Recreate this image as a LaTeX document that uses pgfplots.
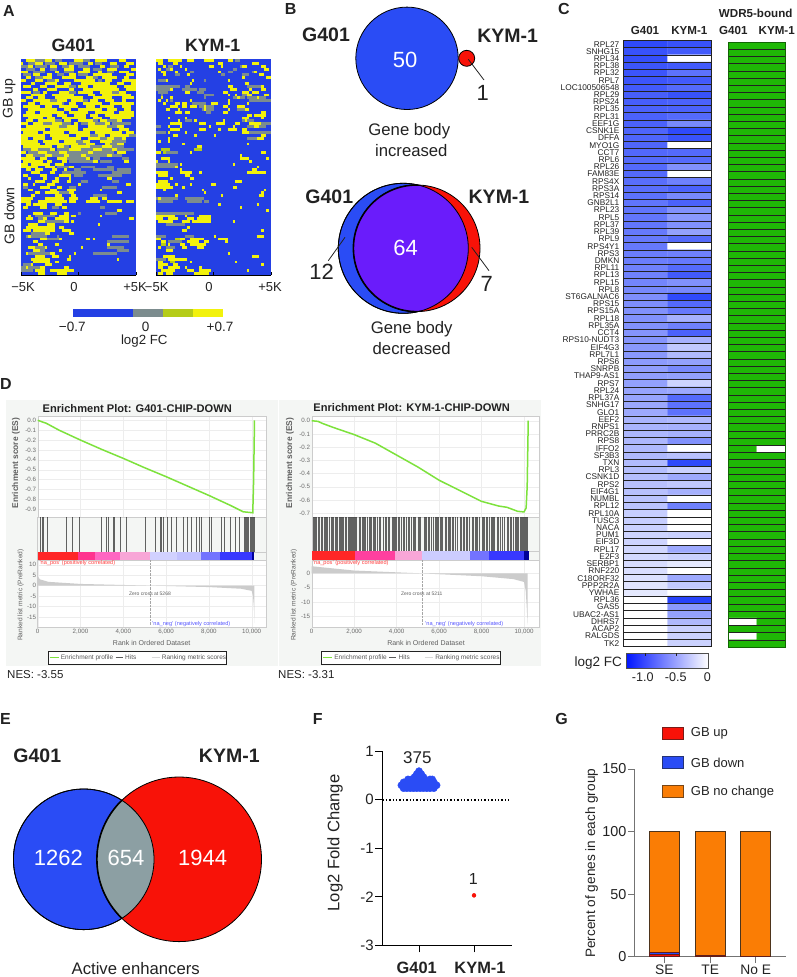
\documentclass[border=0pt]{standalone}
\usepackage{fontspec}
\setmainfont{Liberation Sans}
\usepackage{pgfplots}
\usepackage{pgfplotstable}
\pgfplotsset{compat=1.18}
\newcommand\fs[1]{\fontsize{#1}{#1}\selectfont}
\definecolor{vblue}{HTML}{2A4CF5}
\definecolor{vred}{HTML}{F81208}
\definecolor{vpurple}{HTML}{6A1CFB}
\definecolor{vgrey}{HTML}{8C9FA3}
\definecolor{hblue}{HTML}{2440E4}
\definecolor{hgrey}{HTML}{7C8C8E}
\definecolor{hyel}{HTML}{F2F20C}
\definecolor{holive}{HTML}{B5CC18}
\definecolor{green1}{HTML}{1FB806}
\definecolor{esgreen}{HTML}{7DE23C}
\definecolor{ink}{HTML}{222222}
\definecolor{gseabg}{HTML}{F4F6F4}
\definecolor{orng}{HTML}{FA7D05}
\pgfplotsset{
  panel/.style={scale only axis, anchor=north west, clip mode=individual},
  heat/.style={panel, width=115pt, height=216pt, xmin=0, xmax=48, ymin=0.5, ymax=75.5, y dir=reverse,
    axis line style={draw=none}, axis background/.style={fill=hblue}, ytick=\empty,
    xtick={0,24,48}, xticklabels={}, tick style={black, thick}, major tick length=3pt, tick pos=bottom},
  runs/.style={draw=none, mark=none, forget plot, error bars/.cd, x dir=plus, x explicit, error mark=none,
    error bar style={color=#1, line width=2.9pt}},
  fcmap/.style={panel, xmin=-0.5, xmax=1.5, ymin=-0.5, ymax=83.5, y dir=reverse, xtick=\empty,
    ytick={0,...,83}, major tick length=0pt,
    enlargelimits=false, axis line style={draw=ink, line width=1pt}, axis on top,
    minor ytick={-0.5,0.5,...,83.5}, minor xtick={0.5}, grid=minor,
    minor grid style={draw=ink, line width=.55pt}, minor tick length=0pt},
  gsea/.style={panel, axis line style={draw=gray!40, line width=.4pt}, major tick length=0pt, scaled ticks=false,
    xmin=0, xtick={0,2000,4000,6000,8000,10000}, xticklabels={}, grid=major,
    grid style={gray!14, line width=.3pt}, axis background/.style={fill=white},
    tick label style={font=\fs{6.2}, text=gray!85!black, inner sep=1.5pt}},
  bare/.style={panel, axis line style={draw=gray!40, line width=.4pt}, xmin=0, ytick=\empty, xtick=\empty,
    ymin=0, ymax=1},
  area/.style={fill=#1, draw=none, forget plot},
}
\newcommand\seg[3]{\addplot[area=#1] coordinates {(#2,0)(#2,1)(#3,1)(#3,0)} -- cycle;}
% panel A, runs of cells: row, first column, number of columns
\pgfplotstableread[row sep=\\]{r a n\\
1 2 4\\1 10 3\\1 22 4\\1 31 5\\1 41 3\\2 0 1\\2 6 3\\2 16 3\\2 28 2\\2 37 3\\2 44 3\\3 3 2\\3 12 3\\3 20 2\\3 33 2\\3 43 2\\
4 8 2\\4 18 4\\4 26 3\\4 36 4\\4 46 2\\5 0 3\\5 14 2\\5 24 5\\5 32 2\\5 41 4\\6 5 3\\6 11 2\\6 20 3\\6 30 8\\6 44 3\\
7 2 2\\7 9 4\\7 17 6\\7 27 3\\7 34 6\\7 43 2\\8 0 2\\8 6 3\\8 14 2\\8 22 9\\8 35 3\\8 42 6\\9 4 2\\9 10 5\\9 18 3\\9 25 12\\9 40 3\\9 46 2\\
10 1 3\\10 8 3\\10 14 6\\10 24 4\\10 30 10\\10 43 5\\11 5 2\\11 11 4\\11 20 2\\11 26 15\\11 44 4\\12 0 4\\12 9 2\\12 16 4\\12 24 6\\12 33 5\\12 41 3\\
13 4 6\\13 13 9\\13 28 3\\13 34 12\\14 2 3\\14 7 3\\14 14 12\\14 30 8\\14 42 5\\15 0 2\\15 5 7\\15 15 4\\15 21 5\\15 29 3\\15 35 4\\15 42 2\\
16 3 3\\16 8 9\\16 20 3\\16 26 8\\16 37 10\\17 1 7\\17 10 3\\17 16 8\\17 27 4\\17 33 6\\17 42 4\\18 3 12\\18 18 3\\18 24 10\\18 36 4\\18 43 3\\
19 2 4\\19 8 10\\19 20 8\\19 31 8\\19 41 6\\20 1 12\\20 15 4\\20 22 5\\20 29 3\\20 35 12\\21 3 6\\21 11 3\\21 17 10\\21 30 4\\21 37 9\\
22 2 3\\22 7 7\\22 18 3\\22 24 6\\22 33 3\\22 40 2\\23 0 3\\23 5 4\\23 13 4\\23 22 2\\23 28 3\\23 35 2\\24 2 14\\24 19 5\\24 28 8\\24 40 3\\
25 0 10\\25 12 12\\25 26 12\\25 41 4\\26 1 6\\26 9 9\\26 20 9\\26 31 11\\26 44 3\\27 0 10\\27 12 8\\27 23 6\\27 32 3\\27 37 8\\28 0 3\\28 5 5\\28 13 12\\28 28 5\\28 36 3\\28 42 2\\
29 0 7\\29 9 7\\29 18 5\\29 26 3\\29 33 5\\30 0 8\\30 10 14\\30 27 4\\30 35 2\\30 40 3\\31 1 12\\31 15 3\\31 21 8\\31 34 4\\32 4 3\\32 12 2\\32 20 5\\32 30 4\\32 38 2\\
33 0 2\\33 7 4\\33 16 3\\33 28 2\\33 40 4\\34 2 3\\34 10 3\\34 18 2\\34 25 2\\34 36 2\\35 0 6\\35 8 3\\35 15 4\\35 27 2\\36 1 8\\36 11 2\\36 17 2\\36 30 2\\36 43 2\\
37 0 3\\37 4 8\\37 14 4\\38 0 7\\38 10 4\\38 20 2\\39 2 2\\39 6 3\\39 13 2\\39 18 1\\40 4 4\\40 12 2\\41 1 2\\41 8 3\\41 16 5\\42 3 1\\42 9 2\\42 14 2\\42 20 1\\42 36 2\\
43 6 4\\43 13 3\\43 19 2\\44 1 2\\44 5 1\\44 11 3\\44 24 1\\44 44 2\\45 8 4\\45 15 2\\46 3 2\\46 12 3\\46 19 4\\46 33 1\\47 6 2\\47 10 6\\47 20 2\\47 40 2\\48 4 2\\48 14 3\\48 21 2\\
49 0 5\\49 10 8\\49 20 4\\49 29 3\\49 34 2\\50 0 4\\50 7 12\\50 20 3\\50 27 6\\50 36 6\\50 44 3\\51 2 2\\51 5 6\\51 14 3\\52 1 2\\52 8 3\\52 17 2\\53 40 2\\54 5 4\\54 12 3\\54 18 2\\
55 3 1\\55 16 4\\55 21 2\\55 33 1\\56 2 3\\56 9 2\\56 14 6\\56 45 2\\57 7 3\\57 18 2\\57 21 1\\58 3 4\\58 11 3\\58 32 1\\59 2 12\\59 16 2\\60 1 3\\60 5 9\\60 17 4\\61 10 2\\61 20 2\\62 3 1\\
63 8 3\\63 16 1\\63 27 2\\63 30 1\\64 5 2\\65 7 2\\65 14 2\\65 36 1\\66 3 3\\66 10 1\\66 25 1\\67 5 3\\67 16 1\\68 2 1\\68 12 2\\68 22 1\\69 6 4\\69 13 3\\69 20 1\\70 4 8\\70 19 2\\70 40 1\\
71 5 7\\71 14 2\\72 4 1\\72 10 3\\73 2 1\\73 8 2\\73 18 2\\74 6 4\\74 12 10\\75 7 3\\75 15 4\\
}\gYel
\pgfplotstableread[row sep=\\]{r a n\\
1 6 4\\1 14 3\\1 26 3\\2 3 3\\2 10 4\\2 20 6\\2 31 3\\3 0 3\\3 6 5\\3 17 3\\3 24 5\\3 37 4\\4 2 4\\4 12 3\\4 30 4\\5 5 5\\5 18 4\\5 36 3\\6 1 3\\6 15 3\\6 24 4\\7 6 3\\7 29 3\\8 11 3\\8 32 2\\
10 20 3\\12 5 3\\12 20 3\\12 38 3\\15 12 3\\15 25 3\\16 14 4\\22 12 5\\22 28 4\\22 36 4\\23 9 4\\23 17 4\\23 25 3\\23 30 5\\23 38 8\\24 16 3\\24 36 4\\27 29 3\\27 45 3\\
28 18 1\\28 33 3\\28 38 4\\29 21 5\\29 38 6\\30 24 3\\30 37 3\\31 16 4\\31 29 5\\31 38 5\\32 1 3\\32 7 5\\32 15 5\\32 25 5\\32 34 4\\32 40 7\\33 3 4\\33 11 5\\33 19 9\\33 30 9\\
34 5 5\\34 13 5\\34 20 5\\34 27 9\\34 38 4\\35 19 8\\35 30 3\\35 42 3\\36 20 10\\36 33 5\\38 15 5\\38 25 6\\38 36 3\\39 22 3\\39 30 9\\39 40 6\\40 17 10\\40 38 8\\41 22 4\\41 32 10\\
43 25 3\\43 38 3\\45 1 2\\45 20 3\\45 34 6\\47 14 6\\48 30 6\\52 13 3\\52 33 2\\54 24 1\\54 35 5\\55 6 8\\56 7 2\\57 10 8\\61 4 6\\62 2 9\\62 15 1\\62 38 7\\63 11 5\\64 36 9\\66 5 5\\66 36 7\\
67 8 2\\67 40 5\\68 3 9\\68 30 10\\72 1 3\\73 0 8\\74 0 5\\
}\gGry
\pgfplotstableread[row sep=\\]{r a n\\
1 0 3\\1 5 6\\1 13 3\\1 20 4\\1 30 2\\2 1 2\\2 7 2\\2 26 2\\2 40 3\\3 3 1\\3 10 1\\3 22 2\\3 27 1\\3 36 2\\3 44 2\\4 1 1\\4 6 1\\4 12 1\\4 45 2\\5 2 2\\5 8 1\\5 26 1\\5 41 1\\6 3 1\\6 13 1\\6 43 2\\
7 36 1\\7 46 2\\8 4 1\\8 15 1\\8 30 1\\9 14 1\\9 37 2\\10 30 2\\10 44 1\\11 6 1\\11 31 2\\11 33 1\\11 39 1\\11 44 2\\12 12 2\\12 28 2\\12 36 3\\12 40 3\\13 30 1\\13 33 1\\13 38 2\\13 45 2\\
14 2 1\\14 6 1\\14 34 1\\14 42 1\\15 1 1\\15 4 1\\15 14 1\\15 30 1\\16 3 1\\16 8 2\\16 11 2\\16 23 3\\16 30 1\\16 38 1\\17 6 3\\17 11 2\\17 14 3\\17 20 1\\17 28 2\\17 34 3\\18 4 2\\18 9 1\\18 20 1\\18 30 1\\18 37 2\\
19 8 3\\19 12 2\\19 28 2\\19 44 2\\20 38 2\\20 41 5\\21 5 1\\21 12 1\\21 36 3\\21 44 1\\22 9 1\\22 16 1\\22 28 1\\22 37 1\\23 6 5\\23 18 3\\23 25 4\\23 33 2\\23 39 5\\24 5 1\\24 10 1\\24 22 1\\24 32 1\\24 41 2\\
25 6 4\\25 18 3\\25 26 1\\25 30 4\\25 36 2\\26 5 1\\26 12 1\\26 36 3\\27 7 2\\27 16 1\\27 24 1\\27 44 2\\28 5 1\\28 42 3\\29 1 1\\29 5 1\\30 11 1\\30 38 1\\31 17 2\\33 0 2\\33 14 1\\33 44 2\\34 35 1\\35 2 4\\35 35 4\\35 46 1\\
36 0 1\\36 5 1\\36 39 1\\37 10 1\\37 32 1\\38 8 1\\38 42 1\\39 10 1\\39 40 2\\40 0 5\\40 10 5\\40 18 1\\40 38 8\\41 1 4\\41 12 2\\42 6 1\\42 14 2\\43 1 4\\43 33 3\\44 0 6\\44 8 1\\44 14 1\\44 23 2\\45 0 7\\45 11 1\\45 32 2\\
46 3 1\\46 19 1\\46 45 1\\47 20 1\\47 44 1\\48 8 1\\48 27 1\\48 43 2\\49 1 1\\51 26 1\\51 42 1\\52 35 1\\53 46 1\\55 0 8\\55 12 1\\55 18 5\\56 0 3\\56 5 4\\56 13 3\\56 17 6\\57 1 6\\57 11 3\\57 15 8\\57 32 1\\
59 13 1\\60 11 2\\60 44 1\\62 24 1\\62 42 3\\63 0 2\\63 10 2\\63 14 6\\63 26 4\\64 2 2\\64 13 5\\64 20 2\\64 29 1\\65 5 1\\65 10 2\\65 14 7\\66 1 1\\66 11 2\\66 17 3\\67 4 3\\68 30 1\\69 3 5\\69 40 3\\70 5 8\\
71 1 2\\71 14 1\\71 33 1\\72 1 4\\72 7 2\\72 44 1\\73 1 2\\73 5 5\\73 12 1\\73 18 1\\74 2 6\\74 13 3\\74 18 5\\74 38 1\\75 1 2\\75 4 3\\75 16 6\\
}\kYel
\pgfplotstableread[row sep=\\]{r a n\\
1 8 2\\1 33 2\\3 5 2\\3 35 1\\4 4 2\\4 32 2\\5 14 2\\5 30 2\\5 40 2\\6 8 2\\6 27 2\\6 36 3\\8 1 3\\8 20 1\\10 0 10\\10 12 2\\10 38 6\\11 0 6\\11 11 6\\11 18 3\\12 1 4\\12 17 3\\13 2 1\\13 20 4\\13 36 2\\
14 20 1\\14 32 5\\14 38 8\\15 6 1\\15 39 9\\16 15 6\\17 18 2\\17 20 4\\18 19 5\\18 34 3\\19 21 2\\22 12 3\\22 36 5\\23 44 4\\24 0 2\\24 38 8\\26 0 4\\26 38 10\\28 38 6\\33 3 6\\37 0 9\\38 0 8\\
49 0 9\\49 12 8\\50 1 6\\50 13 6\\50 20 2\\54 0 16\\58 4 8\\62 0 4\\62 12 4\\64 5 6\\66 4 4\\70 0 4\\
}\kGry
\pgfplotstableread[row sep=\\]{r a n\\
32 2 4\\32 16 3\\33 3 1\\63 8 2\\65 2 2\\71 6 2\\
}\kOli
% panel C: column, row, log2 FC, WDR5-bound
\pgfplotstableread[row sep=\\]{x y fc wd\\
0 0 -1.15 1\\1 0 -1.10 1\\0 1 -1.10 1\\1 1 -1.05 1\\0 2 -1.12 1\\1 2 0 1\\0 3 -1.08 1\\1 3 -1.05 1\\0 4 -1.08 1\\1 4 -0.90 1\\0 5 -1.08 1\\1 5 -1.05 1\\
0 6 -1.05 1\\1 6 -0.95 1\\0 7 -1.02 1\\1 7 -1.10 1\\0 8 -1.02 1\\1 8 -1.00 1\\0 9 -1.00 1\\1 9 -1.00 1\\0 10 -1.00 1\\1 10 -0.95 1\\0 11 -1.00 1\\1 11 -0.75 1\\
0 12 -0.98 1\\1 12 -1.15 1\\0 13 -0.98 1\\1 13 -1.10 1\\0 14 -0.97 1\\1 14 0 1\\0 15 -0.96 1\\1 15 -0.95 1\\0 16 -0.95 1\\1 16 -0.95 1\\0 17 -0.95 1\\1 17 -0.70 1\\
0 18 -0.95 1\\1 18 0 1\\0 19 -0.92 1\\1 19 -0.80 1\\0 20 -0.92 1\\1 20 -1.00 1\\0 21 -0.90 1\\1 21 -0.75 1\\0 22 -0.88 1\\1 22 -1.00 1\\0 23 -0.88 1\\1 23 -0.70 1\\
0 24 -0.87 1\\1 24 -0.65 1\\0 25 -0.87 1\\1 25 -0.70 1\\0 26 -0.85 1\\1 26 -0.60 1\\0 27 -0.85 1\\1 27 -0.95 1\\0 28 -0.85 1\\1 28 0 1\\0 29 -0.82 1\\1 29 -0.80 1\\
0 30 -0.82 1\\1 30 -0.85 1\\0 31 -0.80 1\\1 31 -0.95 1\\0 32 -0.80 1\\1 32 -1.05 1\\0 33 -0.78 1\\1 33 -0.70 1\\0 34 -0.76 1\\1 34 -0.75 1\\0 35 -0.72 1\\1 35 -1.15 1\\
0 36 -0.72 1\\1 36 -0.95 1\\0 37 -0.70 1\\1 37 -0.85 1\\0 38 -0.70 1\\1 38 -0.50 1\\0 39 -0.70 1\\1 39 -0.80 1\\0 40 -0.68 1\\1 40 -1.00 1\\0 41 -0.68 1\\1 41 -0.50 1\\
0 42 -0.66 1\\1 42 -0.35 1\\0 43 -0.66 1\\1 43 -0.45 1\\0 44 -0.64 1\\1 44 -0.60 1\\0 45 -0.62 1\\1 45 -0.75 1\\0 46 -0.62 1\\1 46 -0.60 1\\0 47 -0.60 1\\1 47 -0.28 1\\
0 48 -0.58 1\\1 48 -0.55 1\\0 49 -0.58 1\\1 49 -0.95 1\\0 50 -0.56 1\\1 50 -0.90 1\\0 51 -0.55 1\\1 51 -0.90 1\\0 52 -0.48 1\\1 52 -0.45 1\\0 53 -0.48 1\\1 53 -0.50 1\\
0 54 -0.46 1\\1 54 -0.50 1\\0 55 -0.46 1\\1 55 -0.70 1\\0 56 -0.45 1\\1 56 0 0\\0 57 -0.45 1\\1 57 -0.40 1\\0 58 -0.44 1\\1 58 -1.15 1\\0 59 -0.42 1\\1 59 -0.30 1\\
0 60 -0.42 1\\1 60 -0.55 1\\0 61 -0.40 1\\1 61 -0.35 1\\0 62 -0.40 1\\1 62 -0.50 1\\0 63 -0.38 1\\1 63 0 1\\0 64 -0.38 1\\1 64 -0.80 1\\0 65 -0.32 1\\1 65 0 1\\
0 66 -0.32 1\\1 66 0 1\\0 67 -0.30 1\\1 67 0 1\\0 68 -0.28 1\\1 68 -0.30 1\\0 69 -0.28 1\\1 69 0 1\\0 70 -0.26 1\\1 70 -0.55 1\\0 71 -0.25 1\\1 71 -0.30 1\\
0 72 -0.23 1\\1 72 -0.15 1\\0 73 -0.22 1\\1 73 0 1\\0 74 -0.20 1\\1 74 -0.55 1\\0 75 -0.18 1\\1 75 -0.35 1\\0 76 -0.15 1\\1 76 0 1\\0 77 0 1\\1 77 -1.20 1\\
0 78 0 1\\1 78 -0.65 1\\0 79 0 1\\1 79 -0.60 1\\0 80 0 0\\1 80 -0.45 1\\0 81 0 1\\1 81 -0.30 1\\0 82 0 0\\1 82 -0.30 1\\0 83 0 1\\1 83 -0.30 1\\
}\fcTable
\begin{document}
\begin{tikzpicture}
\path[use as bounding box] (0,0) rectangle (796pt,-977pt);
% ---- A
\begin{axis}[heat, at={(21pt,-59pt)}]
\addplot[runs=hgrey] table[x=a,y=r,x error=n] {\gGry};
\addplot[runs=hyel] table[x=a,y=r,x error=n] {\gYel};
\addplot[black, line width=1pt, forget plot] coordinates {(0,75.5)(48,75.5)};
\end{axis}
\begin{axis}[heat, at={(156pt,-59pt)}]
\addplot[runs=hgrey] table[x=a,y=r,x error=n] {\kGry};
\addplot[runs=holive] table[x=a,y=r,x error=n] {\kOli};
\addplot[runs=hyel] table[x=a,y=r,x error=n] {\kYel};
\addplot[black, line width=1pt, forget plot] coordinates {(0,75.5)(48,75.5)};
\end{axis}
% ---- C
\begin{axis}[fcmap, at={(623.5pt,-40.5pt)}, width=88pt, height=606.2pt,
  colormap={hm}{rgb255=(20,50,250) rgb255=(255,255,255)}, point meta min=-1.3, point meta max=0,
  yticklabels={RPL27,SNHG15,RPL34,RPL38,RPL32,RPL7,LOC100506548,RPL29,RPS24,RPL35,RPL31,EEF1G,CSNK1E,DFFA,MYO1G,CCT7,RPL6,RPL26,FAM83E,RPS4X,RPS3A,RPS14,GNB2L1,RPL23,RPL5,RPL37,RPL39,RPL9,RPS4Y1,RPS3,DMKN,RPL11,RPL13,RPL15,RPL8,ST6GALNAC6,RPS15,RPS15A,RPL18,RPL35A,CCT4,RPS10-NUDT3,EIF4G3,RPL7L1,RPS6,SNRPB,THAP9-AS1,RPS7,RPL24,RPL37A,SNHG17,GLO1,EEF2,RNPS1,PRRC2B,RPS8,IFFO2,SF3B3,TXN,RPL3,CSNK1D,RPS2,EIF4G1,NUMBL,RPL12,RPL10A,TUSC3,NACA,PUM1,EIF3D,RPL17,E2F3,SERBP1,RNF220,C18ORF32,PPP2R2A,YWHAE,RPL36,GAS5,UBAC2-AS1,DHRS7,ACAP2,RALGDS,TK2},
  yticklabel style={font=\fs{8.3}, text=ink, inner sep=0pt, xshift=-4pt}]
\addplot[matrix plot*, mesh/cols=2, point meta=explicit]
  table[x=x,y=y,meta=fc] {\fcTable};
\end{axis}
\begin{axis}[fcmap, at={(728pt,-42pt)}, width=57.7pt, height=605pt, yticklabels={},
  axis line style={draw=green1!55!black, line width=.5pt},
  colormap={gw}{rgb255=(255,255,255) rgb255=(31,184,6)}, point meta min=0, point meta max=1]
\addplot[matrix plot*, mesh/cols=2, point meta=explicit]
  table[x=x,y=y,meta=wd] {\fcTable};
\end{axis}
% ---- D, backgrounds first
\fill[gseabg] (6pt,-400pt) rectangle (278pt,-666pt);
\fill[gseabg] (279pt,-400pt) rectangle (541pt,-666pt);
% left plot
\begin{axis}[gsea, at={(37.7pt,-416pt)}, width=228pt, height=101.3pt, xmax=10654, ymin=-0.981, ymax=0.0435,
  ytick={0,-0.1,-0.2,-0.3,-0.4,-0.5,-0.6,-0.7,-0.8,-0.9},
  yticklabels={0.0,-0.1,-0.2,-0.3,-0.4,-0.5,-0.6,-0.7,-0.8,-0.9}]
\addplot[esgreen, line width=1.5pt] coordinates {(0,0)(400,-0.03)(1000,-0.10)(2000,-0.20)(3000,-0.295)(4000,-0.385)(5000,-0.48)(6000,-0.57)(7000,-0.665)(8000,-0.76)(9000,-0.86)(9600,-0.925)(10050,-0.935)(10090,-0.6)(10130,0)};
\end{axis}
\begin{axis}[bare, at={(37.7pt,-517.3pt)}, width=228pt, height=34.4pt, xmax=10654]
\addplot[ycomb, black, opacity=.6, line width=.8pt, mark=none] coordinates {
(140,1)(218,1)(265,1)(436,1)(467,1)(1340,1)(1636,1)(1947,1)(2991,1)(3225,1)(3303,1)(3537,1)(3599,1)(3879,1)(4160,1)(5048,1)(5484,1)(5718,1)(5765,1)(5874,1)(6061,1)(6263,1)(6497,1)(6808,1)(7000,1)(7198,1)(7432,1)(7541,1)(7665,1)(8024,1)(8102,1)(8569,1)(8709,1)(8990,1)(9223,1)(9426,1)(9644,1)(9691,1)(9738,1)(9800,1)(9847,1)(9925,1)(10002,1)(10049,1)(10080,1)(10111,1)};
\end{axis}
\begin{axis}[bare, at={(37.7pt,-551.7pt)}, width=228pt, height=8.3pt, xmax=10654]
\seg{red!85!white}{0}{1900}\seg{red!55!magenta!80!white}{1900}{2700}\seg{red!40!magenta!60!white}{2700}{3850}\seg{magenta!35!white}{3850}{5250}\seg{blue!18!white}{5250}{6500}\seg{blue!24!white}{6500}{7650}\seg{blue!55!white}{7650}{8500}\seg{blue!78!white}{8500}{10000}\seg{blue!60!black}{10000}{10130}
\end{axis}
\begin{axis}[gsea, at={(37.7pt,-560pt)}, width=228pt, height=67.3pt, xmax=10654, ymin=-19.95, ymax=12.25,
  ytick={-15,-10,-5,0,5,10}, yticklabels={-15,-10,-5,0,5,10},
  xticklabels={0,{2,000},{4,000},{6,000},{8,000},{10,000}}]
\addplot[area=gray!40] coordinates {(0,0)(0,4.5)(100,3)(500,1.8)(2000,0.8)(5268,0)(8000,-0.7)(9500,-1.5)(10000,-2.5)(10060,-5)(10100,-10)(10130,-18)(10130,0)} -- cycle;
\addplot[gray!70, densely dotted, line width=.4pt, forget plot] coordinates {(5268,12.25)(5268,-19)};
\end{axis}
% right plot
\begin{axis}[gsea, at={(311.7pt,-415.7pt)}, width=227.3pt, height=101.6pt, xmax=10707, ymin=-0.7305, ymax=0.0379,
  ytick={0,-0.1,-0.2,-0.3,-0.4,-0.5,-0.6,-0.7},
  yticklabels={0.0,-0.1,-0.2,-0.3,-0.4,-0.5,-0.6,-0.7}]
\addplot[esgreen, line width=1.5pt] coordinates {(0,0)(300,-0.005)(500,-0.02)(1000,-0.05)(2000,-0.105)(3000,-0.17)(4000,-0.26)(5000,-0.35)(6000,-0.45)(7000,-0.53)(8000,-0.61)(8800,-0.645)(9200,-0.655)(9700,-0.685)(10000,-0.69)(10100,-0.66)(10150,-0.5)(10200,0)};
\end{axis}
\begin{axis}[bare, at={(311.7pt,-517.3pt)}, width=227.3pt, height=33.7pt, xmax=10707]
\addplot[ycomb, black, opacity=.6, line width=.9pt, mark=none] coordinates {
(60,1)(130,1)(190,1)(240,1)(310,1)(360,1)(450,1)(510,1)(580,1)(640,1)(700,1)(760,1)(850,1)(920,1)(1000,1)(1040,1)(1110,1)(1180,1)(1230,1)(1290,1)(1350,1)(1400,1)(1450,1)(1500,1)(1600,1)(1650,1)(1710,1)(1780,1)(1830,1)(1870,1)(1930,1)(1980,1)(2020,1)(2060,1)(2120,1)(2240,1)(2300,1)(2380,1)(2430,1)(2480,1)(2540,1)(2610,1)(2700,1)(2760,1)(2820,1)(2890,1)(2950,1)(3010,1)(3120,1)(3180,1)(3250,1)(3400,1)(3460,1)(3520,1)(3600,1)(3660,1)(3780,1)(3830,1)(3900,1)(3960,1)(4010,1)(4080,1)(4150,1)(4250,1)(4300,1)(4370,1)(4450,1)(4560,1)(4620,1)(4700,1)(4780,1)(4830,1)(4900,1)(5010,1)(5060,1)(5120,1)(5300,1)(5350,1)(5420,1)(5500,1)(5560,1)(5620,1)(5720,1)(5820,1)(5880,1)(5930,1)(5990,1)(6060,1)(6110,1)(6180,1)(6300,1)(6360,1)(6420,1)(6490,1)(6550,1)(6610,1)(6700,1)(6760,1)(6880,1)(7000,1)(7060,1)(7130,1)(7190,1)(7290,1)(7350,1)(7420,1)(7560,1)(7620,1)(7690,1)(7760,1)(7830,1)(7880,1)(8020,1)(8080,1)(8140,1)(8210,1)(8300,1)(8370,1)(8450,1)(8510,1)(8560,1)(8620,1)(8760,1)(8820,1)(8890,1)(9000,1)(9060,1)(9200,1)(9270,1)(9350,1)(9410,1)(9520,1)(9580,1)(9640,1)(9700,1)(9760,1)(9820,1)(9880,1)(9930,1)(9980,1)(10020,1)(10060,1)(10100,1)(10140,1)(10180,1)};
\end{axis}
\begin{axis}[bare, at={(311.7pt,-551pt)}, width=227.3pt, height=8.7pt, xmax=10707]
\seg{red!85!white}{0}{2044}\seg{red!50!magenta!75!white}{2044}{3930}\seg{magenta!35!white}{3930}{5188}\seg{blue!20!white}{5188}{7467}\seg{blue!55!white}{7467}{8332}\seg{blue!78!white}{8332}{9982}\seg{blue!60!black}{9982}{10218}
\end{axis}
\begin{axis}[gsea, at={(311.7pt,-559.7pt)}, width=227.3pt, height=67.3pt, xmax=10707, ymin=-18.8, ymax=4.8,
  ytick={-15,-10,-5,0}, yticklabels={-15,-10,-5,0},
  xticklabels={0,{2,000},{4,000},{6,000},{8,000},{10,000}}]
\addplot[area=gray!40] coordinates {(0,0)(0,2.5)(2000,1.0)(5211,0)(8000,-1)(9500,-2)(10000,-3)(10080,-6)(10130,-12)(10170,-18)(10170,0)} -- cycle;
\addplot[gray!70, densely dotted, line width=.4pt, forget plot] coordinates {(5211,4.8)(5211,-18)};
\end{axis}
% ---- F
\begin{axis}[panel, at={(382.3pt,-751.3pt)}, width=129.4pt, height=194pt, xmin=0.333, xmax=2.685, ymin=-3, ymax=1,
  axis lines=left, axis line style={-, black, line width=1pt}, tick style={black, line width=1pt},
  tick align=outside, major tick length=7pt, clip=false,
  ytick={-3,-2,-1,0,1}, yticklabels={-3,-2,-1,0,1}, xtick={1,2}, xticklabels={},
  yticklabel style={font=\fs{15}, text=ink, inner sep=1.5pt}]
\addplot[black, line width=1.4pt, dotted, forget plot] coordinates {(0.333,0)(2.64,0)};
\addplot[only marks, mark=*, mark size=3.6pt, color=vblue, mark options={fill=vblue, draw=vblue}] coordinates {
(.72,.24)(.78,.24)(.84,.24)(.90,.24)(.96,.24)(1.02,.24)(1.08,.24)(1.14,.24)(1.20,.24)(1.27,.24)
(.68,.30)(.74,.30)(.80,.30)(.86,.30)(.92,.30)(.98,.30)(1.04,.30)(1.10,.30)(1.16,.30)(1.22,.30)(1.29,.30)(1.32,.30)
(.72,.36)(.78,.36)(.84,.36)(.90,.36)(.96,.36)(1.02,.36)(1.08,.36)(1.14,.36)(1.22,.36)(1.27,.36)
(.80,.42)(.86,.42)(.92,.42)(.98,.42)(1.04,.42)(1.10,.42)(1.20,.42)(1.24,.42)
(.92,.47)(.96,.47)(1.0,.47)(1.04,.47)(1.08,.47)(.96,.53)(1.0,.53)(1.04,.53)(1.0,.59)};
\addplot[only marks, mark=*, mark size=2pt, color=vred, mark options={fill=vred, draw=vred}] coordinates {(2,-1.97)};
\end{axis}
% ---- G
\begin{axis}[panel, at={(634pt,-769pt)}, width=152pt, height=187.7pt, xmin=-0.663, xmax=2.663, ymin=0, ymax=150,
  ybar stacked, bar width=30pt,
  axis lines=left, axis line style={-, gray!90!black, line width=1pt}, tick style={gray!90!black, line width=1pt},
  tick align=outside, major tick length=6pt, clip=false,
  ytick={0,50,100,150}, yticklabels={0,50,100,150}, xtick={0,1,2}, xticklabels={},
  yticklabel style={font=\fs{14.4}, text=ink, inner sep=1.5pt}]
\addplot[fill=vred, draw=ink!70!vred, line width=.5pt] coordinates {(0,2)(1,0.5)(2,0.3)};
\addplot[fill=vblue, draw=ink!70!vred, line width=.5pt] coordinates {(0,1.5)(1,0.5)(2,0.2)};
\addplot[fill=orng, draw=ink!80!orng, line width=.7pt] coordinates {(0,96.5)(1,99)(2,99.5)};
\end{axis}
% ---- overlay in picture pixels: Venn sets and legend keys
\begin{axis}[panel, at={(0pt,0pt)}, width=796pt, height=977pt, xmin=0, xmax=796, ymin=0, ymax=977, y dir=reverse,
  hide axis, clip=false]
\addplot[only marks, mark=*, mark size=51.2pt, mark options={fill=vblue, draw=black, line width=.8pt}] coordinates {(407,58.3)};
\addplot[only marks, mark=*, mark size=8pt, mark options={fill=vred, draw=black, line width=.8pt}] coordinates {(466.7,58.3)};
\addplot[only marks, mark=*, mark size=65pt, mark options={fill=vblue, draw=black, line width=.8pt}] coordinates {(403.3,248.3)};
\addplot[only marks, mark=*, mark size=63.3pt, mark options={fill=vred, draw=black, line width=.8pt}] coordinates {(416.7,248.3)};
\addplot[only marks, mark=*, mark size=70.3pt, mark options={fill=vblue, draw=black, line width=.8pt}] coordinates {(83.7,859.3)};
\addplot[only marks, mark=*, mark size=82.3pt, mark options={fill=vred, draw=black, line width=.8pt}] coordinates {(179.2,859.3)};
\pgfplotsextra{
  \begin{scope}
  \clip (axis cs:403.3,248.3) circle[radius=65pt];
  \fill[vpurple, draw=black, line width=1.6pt] (axis cs:416.7,248.3) circle[radius=63.3pt];
  \end{scope}
  \draw[black, line width=.8pt] (axis cs:403.3,248.3) circle[radius=65pt];
  \begin{scope}
  \clip (axis cs:83.7,859.3) circle[radius=70.3pt];
  \fill[vgrey, draw=black, line width=1.6pt] (axis cs:179.2,859.3) circle[radius=82.3pt];
  \end{scope}
  \draw[black, line width=.8pt] (axis cs:83.7,859.3) circle[radius=70.3pt];
}
\addplot[area=hblue] coordinates {(72.7,308.7)(132.7,308.7)(132.7,316.7)(72.7,316.7)} -- cycle;
\addplot[area=hgrey] coordinates {(132.7,308.7)(162.7,308.7)(162.7,316.7)(132.7,316.7)} -- cycle;
\addplot[area=holive] coordinates {(162.7,308.7)(192.7,308.7)(192.7,316.7)(162.7,316.7)} -- cycle;
\addplot[area=hyel] coordinates {(192.7,308.7)(222.7,308.7)(222.7,316.7)(192.7,316.7)} -- cycle;
\addplot[fill=vred, draw=ink!60!vred, line width=.7pt] coordinates {(662.7,727.3)(683.3,727.3)(683.3,739.3)(662.7,739.3)} -- cycle;
\addplot[fill=vblue, draw=ink!60!vblue, line width=.7pt] coordinates {(662.7,756.7)(683.3,756.7)(683.3,768.3)(662.7,768.3)} -- cycle;
\addplot[fill=orng, draw=ink!60!orng, line width=.7pt] coordinates {(662.7,785.7)(683.3,785.7)(683.3,797.3)(662.7,797.3)} -- cycle;
\end{axis}
% ---- labels, in picture pixels
\begin{scope}[x=1pt, y=-1pt, every node/.style={text=ink, inner sep=0pt}]
\node[font=\bfseries\fs{16}] at (9,11) {A};
\node[font=\bfseries\fs{16}] at (290.7,8.5) {B};
\node[font=\bfseries\fs{16}] at (564,9) {C};
\node[font=\bfseries\fs{16}] at (6,384) {D};
\node[font=\bfseries\fs{16}] at (5.5,719) {E};
\node[font=\bfseries\fs{16}] at (317.7,719.3) {F};
\node[font=\bfseries\fs{16}] at (561.7,719.3) {G};
% A
\node[font=\bfseries\fs{17.8}] at (73.3,45) {G401};
\node[font=\bfseries\fs{17.8}] at (212.7,45) {KYM-1};
\node[font=\fs{14}, rotate=90] at (9.3,99) {GB up};
\node[font=\fs{14}, rotate=90] at (9.3,216) {GB down};
\node[font=\fs{13}] at (23,287) {−5K};
\node[font=\fs{13}] at (74,287) {0};
\node[font=\fs{13}] at (135,287) {+5K};
\node[font=\fs{13}] at (156.7,287) {−5K};
\node[font=\fs{13}] at (209,287) {0};
\node[font=\fs{13}] at (270,287) {+5K};
\node[font=\fs{13.5}] at (72.3,327) {−0.7};
\node[font=\fs{13.5}] at (145.7,327) {0};
\node[font=\fs{13.5}] at (220,327) {+0.7};
\node[font=\fs{13.3}] at (144.3,341) {log2 FC};
% B
\node[font=\bfseries\fs{19.5}] at (326,35) {G401};
\node[font=\bfseries\fs{19.5}] at (507.7,36) {KYM-1};
\node[font=\fs{22}, text=white] at (405,60) {50};
\draw[ink, line width=.8pt] (468.3,59.3) -- (484,80);
\node[font=\fs{22}] at (482.7,93) {1};
\node[font=\fs{16.7}] at (409.3,131) {Gene body};
\node[font=\fs{16.7}] at (411.3,151) {increased};
\node[font=\bfseries\fs{19.5}] at (329.3,196.7) {G401};
\node[font=\bfseries\fs{19.5}] at (499,196.7) {KYM-1};
\node[font=\fs{22}, text=white] at (405.7,248.3) {64};
\draw[ink, line width=.8pt] (345,237.3) -- (328.3,260.7);
\draw[ink, line width=.8pt] (471.7,247.3) -- (489,270.7);
\node[font=\fs{22}] at (321.7,271.7) {12};
\node[font=\fs{22}] at (486.7,284.3) {7};
\node[font=\fs{16.7}] at (411.7,329) {Gene body};
\node[font=\fs{16.7}] at (411.7,349) {decreased};
% C
\node[font=\bfseries\fs{11.6}] at (645,31) {G401};
\node[font=\bfseries\fs{11.6}] at (689.3,31) {KYM-1};
\node[font=\bfseries\fs{11.6}] at (733.3,31) {G401};
\node[font=\bfseries\fs{11.6}] at (776.7,31) {KYM-1};
\node[font=\bfseries\fs{11.6}] at (755.7,13.3) {WDR5-bound};
\shade[left color=blue!92!cyan, right color=white, draw=ink!80!white, line width=1pt] (626,653.3) rectangle (708.3,668.3);
\draw[ink, line width=.6pt] (645,653.3) -- (645,655.5) (676.3,653.3) -- (676.3,655.5);
\node[font=\fs{13.5}] at (598.3,662.7) {log2 FC};
\node[font=\fs{12.6}] at (642.7,677.3) {-1.0};
\node[font=\fs{12.6}] at (675.7,677.3) {-0.5};
\node[font=\fs{12.6}] at (707.3,677.3) {0};
% D
\node[font=\bfseries\fs{11.1}] at (137.3,409) {Enrichment Plot: G401-CHIP-DOWN};
\node[font=\bfseries\fs{11.1}] at (411.7,407.7) {Enrichment Plot: KYM-1-CHIP-DOWN};
\node[font=\bfseries\fs{8.4}, rotate=90, text=gray!75!black] at (16,463) {Enrichment score (ES)};
\node[font=\bfseries\fs{8.4}, rotate=90, text=gray!75!black] at (290,463) {Enrichment score (ES)};
\node[font=\fs{6.6}, rotate=90, text=gray!75!black] at (20.7,595) {Ranked list metric (PreRanked)};
\node[font=\fs{6.6}, rotate=90, text=gray!75!black] at (294,595) {Ranked list metric (PreRanked)};
\node[font=\fs{7}, text=gray!75!black] at (151.7,642.7) {Rank in Ordered Dataset};
\node[font=\fs{7}, text=gray!75!black] at (426,642.7) {Rank in Ordered Dataset};
\node[font=\fs{5.6}, text=red!75!white, anchor=west] at (39.3,563.3) {'na\_pos' (positively correlated)};
\node[font=\fs{5.6}, text=red!75!white, anchor=west] at (312.7,562.7) {'na\_pos' (positively correlated)};
\node[font=\fs{5.6}, text=blue!65!white, anchor=west] at (152,624) {'na\_neg' (negatively correlated)};
\node[font=\fs{5.6}, text=blue!65!white, anchor=west] at (425,623.7) {'na\_neg' (negatively correlated)};
\node[font=\fs{5}, text=gray!75!black] at (150,594) {Zero cross at 5268};
\node[font=\fs{5}, text=gray!75!black] at (421.7,593.7) {Zero cross at 5211};
\foreach \ox in {0,273.4}{
  \draw[ink, fill=white, line width=.5pt] (48.3+\ox,651) rectangle (226.7+\ox,664);
  \draw[esgreen, line width=1.3pt] (49.5+\ox,657.5) -- (59+\ox,657.5);
  \node[font=\fs{6.5}, text=gray!70!black, anchor=west] at (60.7+\ox,657.5) {Enrichment profile};
  \draw[gray!70!black, line width=.7pt] (115.5+\ox,657.5) -- (123+\ox,657.5);
  \node[font=\fs{6.5}, text=gray!70!black, anchor=west] at (125+\ox,657.5) {Hits};
  \draw[gray!30, line width=.7pt] (151.5+\ox,657.5) -- (160+\ox,657.5);
  \node[font=\fs{6.5}, text=gray!70!black, anchor=west] at (161.7+\ox,657.5) {Ranking metric scores};
}
\node[font=\fs{11.5}, anchor=west] at (7,675) {NES: -3.55};
\node[font=\fs{11.5}, anchor=west] at (278,675) {NES: -3.31};
% E
\node[font=\bfseries\fs{19.5}] at (37.3,755.7) {G401};
\node[font=\bfseries\fs{19.5}] at (229.3,755.7) {KYM-1};
\node[font=\fs{22}, text=white] at (58.3,858.3) {1262};
\node[font=\fs{22}, text=white] at (126,858.3) {654};
\node[font=\fs{22}, text=white] at (202.7,858.3) {1944};
\node[font=\fs{16.7}] at (135.7,968.5) {Active enhancers};
% F
\node[font=\fs{16.6}, rotate=90] at (335,843) {Log2 Fold Change};
\node[font=\fs{17}] at (417.3,757.3) {375};
\node[font=\fs{16}] at (473.3,879.3) {1};
\node[font=\bfseries\fs{16.4}] at (416.7,968) {G401};
\node[font=\bfseries\fs{16.4}] at (480,968) {KYM-1};
% G
\node[font=\fs{13.6}, rotate=90] at (591.7,863.3) {Percent of genes in each group};
\node[font=\fs{13.8}] at (664.3,969.5) {SE};
\node[font=\fs{13.8}] at (710.2,969.5) {TE};
\node[font=\fs{13.8}] at (755.8,969.5) {No E};
\node[font=\fs{13}, anchor=west] at (690.7,733.3) {GB up};
\node[font=\fs{13}, anchor=west] at (690.7,763.3) {GB down};
\node[font=\fs{13}, anchor=west] at (690.7,791.7) {GB no change};
\end{scope}
\end{tikzpicture}
\end{document}
